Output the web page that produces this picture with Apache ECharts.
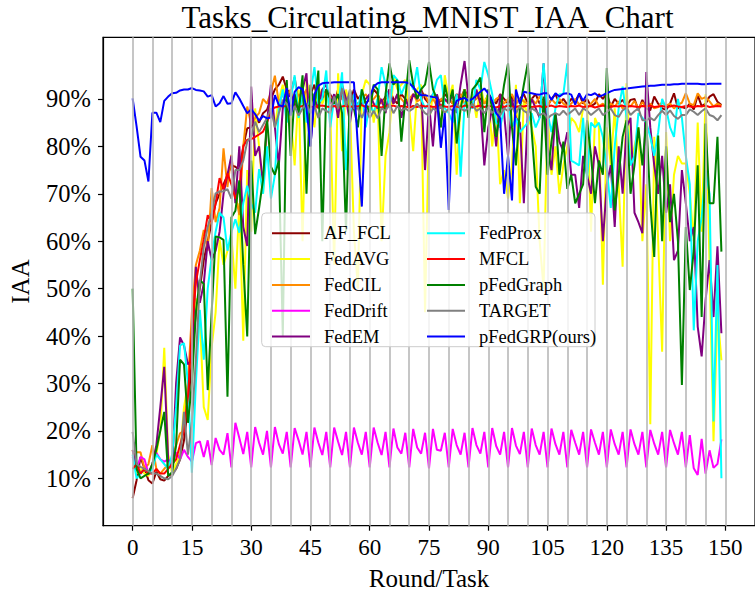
<!DOCTYPE html>
<html>
<head>
<meta charset="utf-8">
<script src="https://cdn.jsdelivr.net/npm/echarts@6/dist/echarts.min.js"></script>
<style>
  html, body { margin: 0; padding: 0; background: #ffffff; }
  #chart { width: 755px; height: 596px; }
</style>
</head>
<body>
<div id="chart"></div>
<script>
// IAA (%) per round for each method, rounds 0..149
const seriesNames = ['AF_FCL', 'FedAVG', 'FedCIL', 'FedDrift', 'FedEM',
                     'FedProx', 'MFCL', 'pFedGraph', 'TARGET', 'pFedGRP(ours)'];
const seriesColors = ['#8b0000', '#ffff00', '#ff8c00', '#ff00ff', '#800080',
                      '#00ffff', '#ff0000', '#008000', '#808080', '#0000ff'];

const afFcl = [
  5.8, 9.6, 14.5, 12, 9.6, 8.9, 11.4, 9.8, 9.5, 10.5,
  11, 12, 14, 18, 25, 35, 45, 50, 56, 60,
  64, 68, 70, 72, 74, 76, 75.7, 75, 80, 83.8,
  84, 86, 85, 87, 87.7, 90, 92, 93, 94.7, 92,
  91, 94.5, 89, 92, 90, 91, 93, 89, 90, 92,
  91, 89, 92, 90, 91, 89.5, 92, 90, 91, 89,
  90, 92, 91, 89, 90.5, 92, 90, 89, 91, 90,
  89, 91, 90, 92, 90, 89, 91, 90, 89.5, 91,
  90, 89, 91, 90, 92, 90, 89, 91, 90, 89,
  91, 90, 89, 91, 90, 89, 90.5, 89, 90, 91,
  89, 90, 91, 89, 90, 88.5, 90, 91, 89, 90,
  88.8, 90, 89.5, 91, 89, 90, 88.5, 89, 91, 90,
  91.2, 88.4, 90, 89, 89.8, 88.5, 89.8, 90, 87.6, 89.8,
  88, 87.6, 90.5, 89, 88, 87.7, 89, 91.2, 88, 88.3,
  88, 89, 87.8, 90.8, 88.5, 89, 90.5, 91, 89.4, 88.7
];
const fedAvg = [
  16, 11, 12, 11, 10.5, 13, 15, 20, 37.5, 15,
  11, 13, 15, 25, 30, 40, 47.9, 44, 25, 22.3,
  37.7, 45, 60.3, 55, 58, 61, 50, 68, 39, 75,
  62, 88, 80, 70, 85, 91, 84, 90, 93, 89,
  86, 76, 92, 60, 94, 90, 84, 93, 89, 91,
  88, 55, 95.4, 79, 92, 88, 62, 50, 91, 94,
  93, 85, 90, 60, 78, 83, 95, 92, 93, 94,
  88, 79, 92, 93, 45, 85, 91, 88, 84, 95,
  90, 93, 74, 89, 92, 88, 91, 86, 93, 89,
  91, 80, 88, 72, 75, 69, 76, 93, 68, 90,
  86, 84, 80, 60, 50, 87, 74, 80, 70, 76,
  80, 86, 85, 83, 88, 89, 62, 86, 84, 50.8,
  84, 76, 88, 72, 54.6, 93.3, 76, 80, 84, 60,
  72, 21.4, 82, 60, 36.7, 83, 60, 74, 78, 76.4,
  76.4, 70, 60, 85, 62, 91, 55, 17.8, 45, 34.9
];
const fedCil = [
  14.5, 15.5, 15.5, 12, 13, 17, 12, 11, 12, 13,
  14, 17, 19.5, 20, 30, 45, 55, 58, 62.4, 58,
  71.2, 64, 67, 79.6, 71.4, 78.2, 70, 65.5, 80, 88.4,
  84.6, 86, 87, 90, 89, 91.4, 94.9, 89, 91, 90.5,
  92, 89, 91, 90, 92, 89.5, 91, 90, 92, 90,
  90.5, 89, 91, 90, 89.5, 91, 90, 88.8, 90, 91,
  89.5, 90, 91, 89, 90, 90.5, 89, 91, 90, 89,
  90, 91, 89.5, 90, 91, 89, 90, 88.7, 90, 89.5,
  90, 89, 90.5, 91, 89, 90, 89.5, 90, 91, 89,
  90, 89, 90, 90.5, 89, 90, 91, 89, 90, 89.5,
  89, 90, 89, 90.5, 89, 88.5, 90, 89, 90, 89,
  88.5, 89, 90, 88.8, 89.5, 88, 89, 90, 88.5, 89,
  88, 89, 88.4, 89.5, 88, 89.1, 88.4, 89.6, 88, 89.3,
  88.4, 89, 88, 88.3, 89.3, 88.6, 89, 88, 88.8, 89.2,
  91.2, 89, 88.7, 91.2, 90, 90.4, 89.5, 88.4, 89, 88.6
];
const fedDrift = [
  14.5, 12, 14.5, 14, 11, 13, 15.4, 14, 13.5, 14,
  13, 15.5, 14, 16, 14.5, 13.5, 17.4, 17.8, 14.5, 18,
  12.8, 18.5, 16, 15, 19.5, 12.3, 21.7, 18.5, 15.1, 19.8,
  12.3, 20.8, 17.5, 15, 20, 12.3, 20.8, 17.2, 15.2, 19.8,
  12.3, 20.6, 18, 15, 19.8, 12.3, 20.7, 17.5, 14.9, 19.8,
  12.3, 20.7, 17.7, 14.9, 19.8, 12.3, 20.7, 17.5, 15, 19.8,
  12.3, 20.7, 17.5, 14.9, 19.8, 12.3, 20.5, 16.5, 15.2, 19.6,
  12.3, 20.4, 16.5, 15.2, 19.6, 12.1, 20.4, 16, 15.8, 19.6,
  12.3, 20.4, 17, 15, 19.6, 12.3, 20.6, 17, 15.2, 19.8,
  12.3, 20.6, 16.8, 15, 19.8, 12.3, 20.6, 16.9, 15.1, 19.8,
  12.3, 20.5, 17, 15, 19.8, 12.3, 20.5, 17.2, 15, 19.8,
  12.3, 20.2, 17.5, 15, 19.8, 12.3, 20.3, 17.5, 15, 19.8,
  12.3, 20.3, 17.2, 15, 19.8, 12.3, 20.3, 17.2, 15, 19.8,
  12.3, 20.2, 17.3, 15, 19.8, 12.3, 20.2, 17.4, 15, 19.8,
  12.3, 19.1, 12.1, 10.7, 18.3, 11, 15.9, 12.2, 13, 18.2
];
const fedEm = [
  16, 12, 11, 12, 11, 13, 17, 25, 33.5, 14,
  12, 30, 39.7, 38, 34, 35, 54.6, 47, 51, 60,
  56, 58, 62, 70, 74, 78, 68, 80, 63, 59,
  92.6, 78, 80, 72, 85, 93, 84, 76, 88, 90,
  91, 89, 88, 92, 95.4, 80, 90, 88, 92, 93,
  89, 91, 86, 93, 90, 85, 91, 88, 89, 90,
  91, 89, 88, 90, 87, 92, 89, 91, 86, 90,
  88, 91, 90, 92, 75, 89, 80, 91, 88, 90,
  89, 91, 87, 93, 98, 90, 88, 92, 89, 76,
  84, 88, 80, 91, 87, 78, 90, 86, 85, 68,
  87, 90, 88, 86, 97.5, 80, 75, 87, 81, 79,
  83, 74, 74, 67, 78, 74, 70, 80, 76, 60,
  72, 76, 63, 80, 70, 84, 86, 66, 64, 61.7,
  95.7, 84, 76, 70, 78, 66, 72, 56, 58, 75,
  68, 60, 63, 42, 35.7, 47.6, 56, 44, 58.9, 40.6
];
const fedProx = [
  15, 10, 11, 12, 11, 12, 15, 14, 13, 12,
  15, 25, 38, 38.5, 30, 11.2, 30, 45.5, 35, 50,
  56.7, 62, 66, 65, 58, 62, 64.6, 61.8, 68, 71.7,
  68, 66, 75.2, 70, 80, 69, 74, 88, 92, 85,
  90, 95, 86, 91, 85, 91, 96.7, 89, 90, 96,
  84, 90, 88, 95.6, 75, 87, 91, 88, 92, 84,
  89, 87, 90, 96.7, 93, 88, 95, 94, 91, 93,
  94, 92, 96.7, 90, 88, 89, 91, 94, 95, 88,
  87, 85, 91, 73.6, 89, 90, 88, 94, 92, 97.8,
  95, 91, 85, 84, 88, 89, 84, 86, 83, 84,
  85, 87, 84, 86, 97.5, 87, 83, 88, 91, 91,
  97.5, 77, 76.5, 76, 86, 73, 85, 84, 85, 82,
  75, 67, 80, 88, 92.6, 86, 76, 78, 87, 86,
  85, 82, 78, 83, 90, 88, 84, 82, 90, 86,
  78, 72, 41.2, 60, 65, 75, 70, 22, 55, 10
];
const mfcl = [
  12, 13, 11, 12, 11, 11, 12, 11, 11, 12,
  13, 14, 17, 20, 27.2, 41.3, 51.2, 56, 60.3, 65.5,
  64, 68, 73.3, 71, 74.3, 72, 69, 71, 80, 81.4,
  81.5, 82, 82.5, 83.1, 85, 87.7, 88.2, 88.4, 88.5, 88.4,
  88.6, 88.4, 88.3, 88.5, 88.7, 88.4, 88.2, 88.5, 88.6, 88.4,
  88.3, 88.5, 88.2, 88.4, 88.6, 88.3, 88.5, 88.4, 88.7, 88.3,
  88.4, 88.6, 88.3, 88.2, 88.5, 88.4, 88.6, 88.3, 88.5, 88.4,
  88.2, 88.5, 88.3, 88.6, 88.4, 88.5, 88.3, 88.4, 88.7, 88.4,
  88.3, 88.5, 88.4, 88.2, 88.6, 88.5, 88.3, 88.4, 88.6, 88.3,
  88.5, 88.4, 88.2, 88.5, 88.3, 88.6, 88.4, 88.3, 88.5, 88.4,
  88.6, 88.3, 88.4, 88.5, 88.2, 88.4, 88.6, 88.3, 88.5, 88.4,
  88.3, 88.5, 88.4, 88.6, 88.3, 88.4, 88.5, 88.2, 88.4, 88.6,
  88.4, 88.3, 88.5, 88.4, 88.6, 88.3, 88.5, 88.4, 88.3, 88.5,
  88.4, 88.6, 88.3, 88.4, 88.5, 88.3, 88.4, 88.6, 88.4, 88.3,
  88.5, 88.4, 88.3, 88.5, 88.4, 88.6, 88.3, 88.4, 88.5, 88.4
];
const pFedGraph = [
  50, 12, 10, 10.5, 11, 13, 16, 20, 24, 10.5,
  11.3, 17, 35, 34, 21.7, 30, 45, 51.8, 51, 28.6,
  45, 61, 60.8, 60.3, 27.2, 65, 66.4, 72.8, 55, 39.9,
  77, 61.5, 67, 73, 85.9, 75.7, 74, 77, 40, 94,
  78, 91, 87, 95, 70, 93, 88, 96, 60, 92,
  90, 89, 91, 87, 62, 92, 88, 84, 92, 89,
  87, 93, 92, 78, 91, 97.5, 93, 94, 81, 90,
  98.2, 93, 90, 92, 93, 97.8, 92, 90, 84, 93,
  89, 92, 80.6, 88, 92, 86, 92, 93, 94.5, 83,
  92, 88, 82, 87, 93, 97.5, 84, 76, 88, 93,
  97.5, 83, 71.5, 70, 90.5, 74, 81, 87, 74, 81,
  71, 74, 68, 70, 72, 85.5, 78, 68, 77, 74,
  96.5, 80, 66.5, 74, 82, 85.5, 70, 76, 84, 76,
  85.5, 68, 56.7, 82.3, 60, 80, 64, 70, 60, 29.7,
  63, 49.7, 58, 76, 44, 84.8, 68, 68, 82, 57.8
];
const target = [
  19.8, 13, 12.4, 12, 11.5, 11, 11, 10.5, 10, 9.8,
  10.5, 12, 14, 24, 15, 22, 35, 51.1, 58.8, 63,
  66, 70.1, 70.5, 70.5, 71, 69, 75, 75, 77, 81,
  82, 85.2, 83, 84.5, 86, 88, 84, 87, 89.8, 89,
  87, 88.5, 86.5, 88, 89, 87, 88.5, 86, 88, 87.5,
  87, 90.5, 88, 92.2, 88.5, 92, 88, 88, 86, 88,
  86, 87.5, 85.9, 88, 87.5, 89, 87, 88.5, 87.6, 88,
  87.4, 88, 89, 88, 87, 86.5, 88, 87.5, 88.5, 87,
  88, 87.6, 89, 88, 87.5, 88, 89, 87.5, 88, 87,
  88.3, 87, 88, 86.5, 88, 87.5, 88.2, 87, 88.5, 87.5,
  87, 88, 87.5, 86.6, 87, 85.9, 86.6, 87, 86.6, 87.5,
  86.6, 87.3, 88, 86.6, 88, 87.5, 86.6, 87.3, 88, 86.6,
  87.2, 88, 86.6, 86.2, 87.6, 88.2, 86.6, 87.4, 88, 85.5,
  85.5, 86, 85.5, 86.6, 87.5, 86.6, 87.6, 86.4, 85.8, 86.6,
  86.6, 87.8, 87.3, 86.6, 87.4, 88, 86.6, 86.3, 85.5, 86.6
];
const pFedGRP = [
  90.1, 84.2, 77.8, 77.0, 72.6, 87.1, 87.1, 85.1, 89.6, 90.5,
  91.2, 91.3, 91.8, 92.0, 92.0, 92.3, 91.9, 91.8, 91.6, 90.5,
  90.8, 88.4, 89.1, 90.6, 89.0, 89.1, 91.4, 90.1, 88.5, 87.0,
  87.8, 86.8, 85.4, 86.4, 85.9, 86.1, 90.8, 88.7, 88.4, 92.3,
  86.5, 91.5, 92.5, 92.0, 88.0, 80.0, 91.0, 92.8, 93.3, 93.4,
  93.4, 93.5, 93.5, 93.5, 93.5, 93.5, 93.5, 80.0, 67.3, 88.7,
  90.5, 92.6, 93.3, 93.5, 93.5, 93.5, 93.5, 93.5, 93.5, 93.5,
  93.3, 92.5, 91.5, 90.8, 90.8, 90.6, 90.4, 90.3, 79.7, 87.0,
  66.6, 87.5, 89.6, 90.0, 90.2, 89.6, 90.0, 90.8, 91.5, 92.2,
  91.2, 89.5, 87.0, 85.9, 70.0, 78.0, 68.6, 92.0, 89.0, 91.5,
  91.3, 91.2, 91.0, 90.9, 91.2, 91.2, 89.8, 91.2, 90.5, 91.1,
  91.2, 90.9, 88.8, 91.2, 89.6, 91.0, 90.8, 91.2, 90.5, 90.8,
  91.2, 91.6, 91.9, 92.0, 92.1, 92.2, 92.3, 92.4, 92.5, 92.6,
  92.7, 92.8, 92.8, 92.9, 93.0, 93.0, 93.0, 93.1, 93.1, 93.2,
  93.2, 93.2, 93.2, 93.2, 93.1, 93.1, 93.2, 93.2, 93.2, 93.2
];
const seriesValues = [afFcl, fedAvg, fedCil, fedDrift, fedEm,
                      fedProx, mfcl, pFedGraph, target, pFedGRP];

// axis ticks
const xTicks = [0, 15, 30, 45, 60, 75, 90, 105, 120, 135, 150];
const yTicks = [10, 20, 30, 40, 50, 60, 70, 80, 90];
const taskBoundaries = [];
for (let r = 0; r <= 150; r += 5) taskBoundaries.push(r);

const FONT = '"Liberation Serif", "Times New Roman", serif';

const chart = echarts.init(document.getElementById('chart'), null, { renderer: 'svg' });

const lineSeries = seriesNames.map((name, k) => ({
  name: name,
  type: 'line',
  data: seriesValues[k].map((v, i) => [i, v]),
  showSymbol: false,
  symbol: 'none',
  color: seriesColors[k],
  lineStyle: { width: 2, color: seriesColors[k] },
  z: 3
}));

// vertical task-boundary lines behind the curves
const boundarySeries = {
  name: '_boundaries',
  type: 'line',
  data: [],
  silent: true,
  z: 1,
  markLine: {
    silent: true,
    symbol: ['none', 'none'],
    label: { show: false },
    lineStyle: { color: '#b8b8b8', width: 1.6, type: 'solid' },
    data: taskBoundaries.map(r => ({ xAxis: r })),
    animation: false
  }
};

const legendText = { fontFamily: FONT, fontSize: 18.5, color: '#000', lineHeight: 20, padding: [0, 0, 0, 9] };

const option = {
  animation: false,
  backgroundColor: '#ffffff',
  grid: {
    left: 101.7, top: 37.3, width: 659.3, height: 488.4,
    show: true, borderColor: '#000', borderWidth: 1.2, backgroundColor: 'transparent'
  },
  xAxis: {
    type: 'value', min: -7.5, max: 157.5,
    name: 'Round/Task', nameLocation: 'middle', nameGap: 40,
    nameTextStyle: { fontFamily: FONT, fontSize: 25, color: '#000' },
    axisLine: { show: true, onZero: false, lineStyle: { color: '#000', width: 1.2 } },
    axisTick: { show: true, inside: false, length: 5, customValues: xTicks, lineStyle: { color: '#000', width: 1.2 } },
    axisLabel: { customValues: xTicks, fontFamily: FONT, fontSize: 23, color: '#000', margin: 10 },
    splitLine: { show: false }
  },
  yAxis: {
    type: 'value', min: 0, max: 103,
    name: 'IAA', nameLocation: 'middle', nameGap: 70, nameRotate: 90,
    nameTextStyle: { fontFamily: FONT, fontSize: 25, color: '#000' },
    axisLine: { show: true, onZero: false, lineStyle: { color: '#000', width: 1.2 } },
    axisTick: { show: true, inside: false, length: 5, customValues: yTicks, lineStyle: { color: '#000', width: 1.2 } },
    axisLabel: { customValues: yTicks, formatter: v => v + '%', fontFamily: FONT, fontSize: 24.5, color: '#000', margin: 12 },
    splitLine: { show: false }
  },
  legend: [
    {
      data: seriesNames.slice(0, 5), orient: 'vertical', left: 267, top: 218.3,
      itemWidth: 38, itemHeight: 2, itemGap: 5.8, icon: 'rect',
      textStyle: legendText, z: 60, selectedMode: false
    },
    {
      data: seriesNames.slice(5), orient: 'vertical', left: 422, top: 218.3,
      itemWidth: 38, itemHeight: 2, itemGap: 5.8, icon: 'rect',
      textStyle: legendText, z: 60, selectedMode: false
    }
  ],
  graphic: [
    {
      type: 'rect', z: 50, silent: true,
      shape: { x: 261.7, y: 213, width: 333.3, height: 133.7, r: 4 },
      style: { fill: 'rgba(255,255,255,0.8)', stroke: '#cccccc', lineWidth: 1 }
    },
    {
      type: 'text', z: 60, silent: true,
      x: 427.5, y: 2,
      style: {
        text: 'Tasks_Circulating_MNIST_IAA_Chart', fontFamily: FONT, fontSize: 31,
        fill: '#000', align: 'center', verticalAlign: 'top'
      }
    }
  ],
  series: [boundarySeries].concat(lineSeries)
};

chart.setOption(option);
</script>
</body>
</html>
